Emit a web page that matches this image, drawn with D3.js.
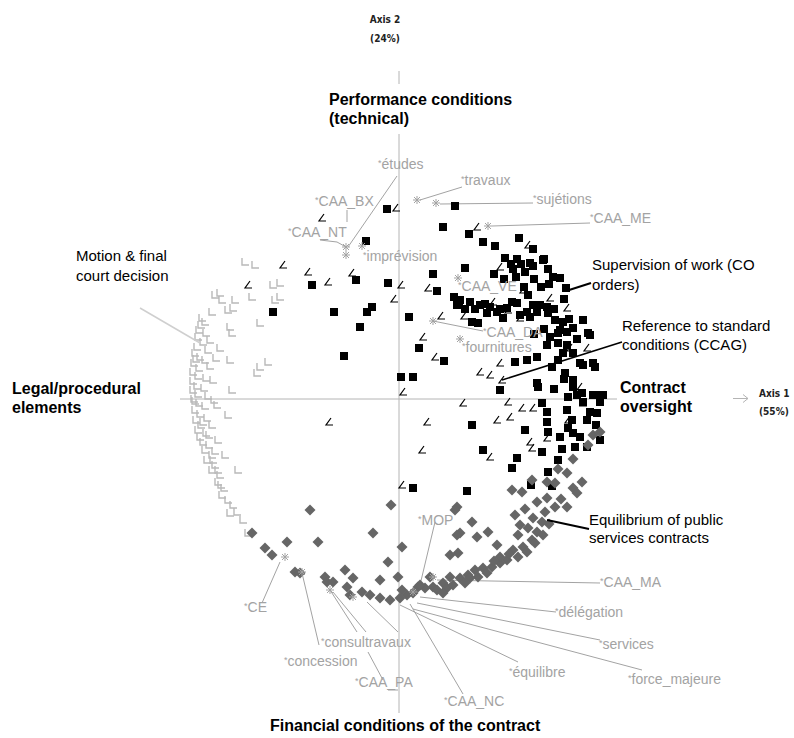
<!DOCTYPE html>
<html>
<head>
<meta charset="utf-8">
<script src="https://cdn.jsdelivr.net/npm/d3@7"></script>
<style>
  body { margin: 0; background: #fff; }
  svg { display: block; }
</style>
</head>
<body>
<div id="chart"></div>
<script>
// factor scores (axis 1, axis 2)

// legal / procedural documents (light gray)
var legalPoints = [
  [-1.54,1.37],[-1.44,1.34],[-1.26,1.14],[-1.79,1.06],[-1.66,0.91],[-1.39,0.76],[-1.69,0.72],
  [-1.39,0.32],[-1.31,0.37],[-1.67,0.09],[-1.71,-0.16],[-1.64,0.99],[-1.47,1.02],[-1.24,0.99],
  [-1.67,0.66],[-1.79,0.51],[-1.69,0.39],[-1.42,0.26],[-1.82,-0.06],[-1.74,-0.56],[-1.61,-0.71],
  [-1.81,-0.71],[-1.86,-0.61],[-1.69,-1.14],[-1.51,-1.34],[-1.19,1.16],[-1.19,1.02],
  [-1.97,0.81],[-1.94,0.77],[-2.00,0.69],[-1.93,0.66],[-2.01,0.62],[-1.96,0.57],[-2.02,0.52],
  [-1.91,0.49],[-2.04,0.46],[-1.99,0.42],[-1.94,0.39],[-2.05,0.36],[-2.00,0.31],[-1.89,0.33],
  [-2.06,0.27],[-2.01,0.23],[-1.93,0.21],[-2.06,0.18],[-2.02,0.13],[-1.95,0.11],[-2.06,0.09],
  [-2.01,0.05],[-1.91,0.03],[-2.05,0.00],[-2.00,-0.04],[-1.94,-0.07],[-2.04,-0.11],[-1.99,-0.15],
  [-1.92,-0.19],[-2.03,-0.21],[-1.98,-0.26],[-2.01,-0.31],[-1.93,-0.34],[-1.99,-0.38],[-1.96,-0.43],
  [-1.90,-0.46],[-1.94,-0.51],[-1.87,-0.56],[-1.92,-0.61],[-1.84,-0.66],[-1.87,-0.71],[-1.79,-0.76],
  [-1.81,-0.83],[-1.75,-0.89],[-1.77,-0.96],[-1.71,-1.01],[-1.66,-1.06],[-1.62,-1.13],[-1.56,-1.21],
  [-1.71,0.89],[-1.77,0.99],[-1.87,0.87],[-1.84,1.04],[-1.89,0.59],[-1.86,0.19],[-1.87,-0.26],
  [-1.85,-0.01],[-1.83,0.41],[-1.81,-0.41],[-1.98,0.74],[-2.03,0.40],[-2.04,-0.02],[-1.96,-0.23],
  [-1.90,-0.36],[-1.84,-0.52],[-1.78,-0.86]
];

// contract oversight, angle marks (black)
var oversightAngles = [
  [-0.03,1.91],[-0.77,1.81],[0.78,1.72],[-1.16,1.34],[-0.91,1.27],[-0.71,1.17],[-0.47,1.26],
  [0.02,1.14],[-0.05,1.00],[0.29,1.11],[0.24,0.62],[0.36,0.42],[0.04,0.07],[-0.70,-0.23],
  [0.28,-0.23],[0.23,-0.51],[1.01,1.32],[1.29,1.54],[1.24,1.09],[1.51,1.01],[1.68,0.91],
  [0.94,0.97],[1.21,0.81],[1.09,0.89],[1.01,0.36],[0.81,0.27],[0.91,0.24],[1.03,0.19],
  [0.64,-0.04],[1.09,-0.03],[1.23,-0.09],[1.11,-0.18],[0.98,-0.21],[1.34,-0.09],[1.31,-0.43],
  [1.33,-0.49],[0.91,-0.58],[1.69,-0.21],[1.81,0.12],[1.84,-0.04],[1.71,0.51],[1.88,0.51],
  [0.03,-0.86],[1.48,-0.39],[-1.51,1.14],[0.65,0.83],[0.42,0.83]
];

// contract oversight, squares (black)
var oversightSquares = [
  [0.44,1.72],[-0.33,1.58],[-0.87,1.14],[-0.43,1.19],[-0.11,1.16],[0.34,1.25],[0.38,1.08],
  [0.55,1.02],[0.58,0.94],[-0.65,0.87],[-0.27,0.92],[-0.32,0.87],[-0.39,0.72],[0.10,0.82],
  [0.20,0.51],[0.45,0.38],[-0.55,0.43],[0.02,0.22],[0.14,0.22],[0.56,1.93],[-0.12,1.90],
  [0.70,1.65],[0.84,1.57],[0.96,1.53],[1.20,1.61],[1.06,1.41],[1.18,1.40],[0.66,1.31],
  [-1.26,0.87],[1.34,1.50],[1.45,1.40],[1.14,1.30],[1.26,1.27],[1.34,1.33],[1.49,1.30],
  [1.54,1.22],[1.61,1.21],[1.67,1.11],[1.65,1.00],[0.61,0.99],[0.71,0.97],[0.81,0.94],
  [0.91,0.92],[1.01,0.90],[1.08,0.91],[1.18,0.96],[1.29,1.04],[1.34,0.94],[1.41,0.94],
  [1.48,0.92],[0.88,0.86],[0.98,0.87],[0.73,0.77],[0.79,0.76],[1.28,0.87],[1.38,0.87],
  [1.49,0.86],[1.56,0.79],[1.64,0.77],[1.61,0.69],[1.68,0.67],[1.74,0.71],[1.84,0.79],
  [1.89,0.66],[1.16,0.37],[1.28,0.39],[1.38,0.42],[1.48,0.54],[1.59,0.56],[1.64,0.46],
  [1.74,0.46],[1.81,0.36],[1.94,0.36],[1.53,0.32],[1.38,0.16],[1.01,0.09],[1.74,0.19],
  [1.66,0.26],[1.83,0.06],[1.94,0.04],[1.31,1.36],[1.44,1.39],[1.21,0.84],[1.31,0.82],
  [1.04,0.81],[1.51,0.62],[1.59,0.66],[1.91,0.64],[1.68,0.54],[1.84,0.34],[1.96,0.32],
  [1.59,0.39],[1.39,0.12],[1.74,0.12],[1.69,0.02],[1.78,0.04],[1.98,0.04],[2.04,0.04],
  [1.84,-0.03],[2.01,-0.03],[1.91,-0.13],[1.98,-0.14],[1.88,-0.21],[1.68,-0.11],[1.73,-0.21],
  [1.69,-0.29],[1.74,-0.34],[1.81,-0.38],[1.61,-0.38],[1.43,-0.04],[1.48,-0.13],[1.48,-0.23],
  [1.49,-0.33],[1.26,-0.31],[0.73,-0.26],[1.76,-0.48],[1.63,-0.50],[1.88,-0.48],[1.43,-0.53],
  [0.84,-0.51],[1.18,-0.59],[1.59,-0.61],[1.13,-0.69],[1.49,-0.73],[1.53,-0.87],[1.32,-0.86],
  [0.14,-0.89],[0.68,-0.92],[1.97,-0.26],[2.01,-0.41],
  [0.60,0.95],[0.66,0.90],[0.76,0.90],[0.86,0.95],[1.13,0.97],[1.25,1.12],[1.35,1.20],
  [1.42,1.12],[1.50,1.15],[1.12,1.35],[1.22,1.35],[1.05,1.20],[1.17,1.22],[0.95,1.25],
  [1.45,0.70],[1.35,0.65],[1.55,0.90],[1.70,0.80],[1.78,0.60],[1.65,0.20],[1.55,0.10]
];

// financial conditions (dark gray diamonds)
var financialPoints = [
  [1.94,-0.36],[2.01,-0.33],[1.89,-0.46],[1.74,-0.60],[1.59,-0.70],[1.68,-0.74],[1.33,-0.81],
  [1.83,-0.83],[1.13,-0.91],[1.23,-0.93],[1.48,-0.83],[1.56,-0.84],[1.74,-0.89],[1.78,-0.94],
  [1.48,-0.99],[1.38,-1.03],[1.56,-1.08],[1.68,-1.08],[1.26,-1.10],[1.46,-1.13],[1.16,-1.16],
  [1.34,-1.19],[1.43,-1.23],[1.21,-1.26],[1.29,-1.29],[1.38,-1.33],[1.44,-1.36],[1.19,-1.36],
  [1.33,-1.41],[1.24,-1.48],[1.14,-1.51],[1.28,-1.53],[1.19,-1.58],[1.08,-1.61],[1.01,-1.64],
  [0.93,-1.68],[0.84,-1.69],[0.76,-1.71],[1.01,-1.58],[0.88,-1.74],[0.79,-1.78],[0.69,-1.76],
  [0.61,-1.79],[0.51,-1.78],[0.44,-1.84],[0.34,-1.88],[0.26,-1.89],[0.19,-1.88],[0.14,-1.94],
  [0.08,-1.96],[0.03,-1.91],[0.31,-1.78],[0.58,-1.08],[0.73,-1.23],[0.61,-1.34],[0.89,-1.33],
  [0.78,-1.38],[0.98,-1.46],[0.59,-1.54],[0.03,-1.48],[-0.89,-1.11],[-0.08,-1.06],[-0.26,-1.34],
  [-1.47,-1.34],[-1.34,-1.49],[-1.27,-1.56],[-1.12,-1.43],[-0.81,-1.43],[-1.04,-1.73],[-0.99,-1.74],
  [-0.74,-1.78],[-0.72,-1.83],[-0.66,-1.83],[-0.54,-1.71],[-0.46,-1.79],[-0.19,-1.81],[-0.11,-1.63],
  [-0.01,-1.78],[-0.52,-1.88],[-0.49,-1.96],[-0.37,-1.93],[-0.29,-1.96],[-0.19,-1.99],[-0.09,-2.01],
  [0.01,-1.99],[0.21,-1.86],[0.38,-1.91],[0.48,-1.89],[0.54,-1.86],[0.51,-1.56],[0.58,-1.36],
  [0.56,-1.11],[0.44,-1.94],[0.71,-1.79],[1.10,-1.55],[0.95,-1.62],[0.66,-1.84],[1.36,-1.44],
  [1.50,-1.25],[1.62,-1.00]
];

// supplementary variables (asterisks)
var variablePoints = [
  [-0.53,1.52],[-0.53,1.44],[-0.37,1.53],[0.18,1.99],[0.37,1.96],[0.89,1.73],[0.59,1.21],
  [0.34,0.78],[0.61,0.60],[0.34,-1.78],[-1.14,-1.58],[-0.97,-1.73],[-0.69,-1.91],[-0.46,-1.98],
  [0.14,-1.93]
];

var variableNames = ['études','travaux','sujétions','CAA_ME','CAA_BX','CAA_NT','imprévision',
  'CAA_VE','CAA_DA','fournitures','MOP','CAA_MA','délégation','services','équilibre',
  'force_majeure','CAA_NC','consultravaux','concession','CAA_PA','CE'];
var variableLabelAt = [
  [-0.21,2.30],[0.62,2.14],[1.34,1.95],[1.91,1.76],[-0.84,1.93],[-1.11,1.62],[-0.36,1.38],
  [0.59,1.08],[0.84,0.62],[0.63,0.47],[0.19,-1.26],[2.01,-1.88],[1.56,-2.18],[2.00,-2.50],
  [1.10,-2.78],[2.29,-2.85],[0.45,-3.07],[-0.78,-2.48],[-1.15,-2.67],[-0.44,-2.88],[-1.55,-2.13]
];
var leaderLines = [
  [[-0.02,2.23],[-0.51,1.52]],
  [[0.63,2.12],[0.21,1.99]],
  [[1.34,1.96],[0.41,1.95]],
  [[1.91,1.76],[0.93,1.73]],
  [[-0.52,1.89],[-0.52,1.77]],
  [[-0.79,1.59],[-0.62,1.57],[-0.53,1.52]],
  [[0.34,0.78],[0.84,0.68]],
  [[0.36,-1.23],[0.21,-1.86]],
  [[0.38,-1.81],[2.01,-1.84]],
  [[0.21,-1.98],[1.57,-2.13]],
  [[0.18,-2.04],[2.01,-2.41]],
  [[0.14,-2.10],[2.43,-2.71]],
  [[0.01,-2.06],[1.19,-2.63]],
  [[0.11,-2.05],[0.64,-2.95]],
  [[-0.97,-1.74],[-0.80,-2.46]],
  [[-0.69,-1.91],[-0.42,-2.33]],
  [[-0.66,-1.93],[-0.33,-2.33]],
  [[-0.31,-2.53],[-0.16,-2.81]],
  [[-0.11,-2.91],[-0.01,-2.91]],
  [[-0.32,-2.03],[-0.01,-2.33]],
  [[-1.19,-1.63],[-1.37,-2.04]]
];

var W = 794, H = 738;
var font = '"Liberation Sans", Arial, sans-serif';
var svg = d3.select('#chart').append('svg')
    .attr('width', W)
    .attr('height', H);

var x = d3.scaleLinear().domain([-4, 4]).range([-1, 799]);
var y = d3.scaleLinear().domain([-4, 4]).range([799, -1]);

var axisColor = '#b4b4b4';
var varColor = '#a3a3a3';

// axes
svg.append('line')
    .attr('x1', 180).attr('x2', 617)
    .attr('y1', y(0)).attr('y2', y(0))
    .attr('stroke', axisColor);
svg.append('line')
    .attr('x1', x(0)).attr('x2', x(0))
    .attr('y1', 71).attr('y2', 84)
    .attr('stroke', axisColor);
svg.append('line')
    .attr('x1', x(0)).attr('x2', x(0))
    .attr('y1', 134).attr('y2', 713)
    .attr('stroke', axisColor);
// axis 1 arrow
svg.append('path')
    .attr('d', 'M733,398.5H748M743,394.5L748,398.5L743,402.5')
    .attr('fill', 'none')
    .attr('stroke', axisColor);

// leader lines of the variables
var line = d3.line().x(d => x(d[0])).y(d => y(d[1]));
svg.selectAll('path.leader')
    .data(leaderLines)
    .enter().append('path')
    .attr('class', 'leader')
    .attr('d', line)
    .attr('fill', 'none')
    .attr('stroke', varColor)
    .attr('stroke-width', 1);

// legal points: L marks
svg.selectAll('path.legal')
    .data(legalPoints)
    .enter().append('path')
    .attr('class', 'legal')
    .attr('transform', d => 'translate(' + x(d[0]) + ',' + y(d[1]) + ')')
    .attr('d', 'M-3,-4L-3,3L4,3')
    .attr('fill', 'none')
    .attr('stroke', '#b9b9b9')
    .attr('stroke-width', 1.4);

// oversight angle marks
svg.selectAll('path.angle')
    .data(oversightAngles)
    .enter().append('path')
    .attr('class', 'angle')
    .attr('transform', d => 'translate(' + x(d[0]) + ',' + y(d[1]) + ')')
    .attr('d', 'M2,-4L-3,3L4,3')
    .attr('fill', 'none')
    .attr('stroke', '#000')
    .attr('stroke-width', 1.2);

// oversight squares
svg.selectAll('rect.sq')
    .data(oversightSquares)
    .enter().append('rect')
    .attr('class', 'sq')
    .attr('x', d => x(d[0]) - 4)
    .attr('y', d => y(d[1]) - 4)
    .attr('width', 8)
    .attr('height', 8)
    .attr('fill', '#000');

// financial diamonds
svg.selectAll('path.dia')
    .data(financialPoints)
    .enter().append('path')
    .attr('class', 'dia')
    .attr('transform', d => 'translate(' + x(d[0]) + ',' + y(d[1]) + ')')
    .attr('d', 'M0,-5.5L5.5,0L0,5.5L-5.5,0Z')
    .attr('fill', '#666');

// variables: asterisks
svg.selectAll('path.star')
    .data(variablePoints)
    .enter().append('path')
    .attr('class', 'star')
    .attr('transform', d => 'translate(' + x(d[0]) + ',' + y(d[1]) + ')')
    .attr('d', 'M-4,0H4M0,-4V4M-3,-3L3,3M-3,3L3,-3')
    .attr('stroke', varColor)
    .attr('stroke-width', 1);

// variable labels
var vl = svg.selectAll('text.var')
    .data(variableNames)
    .enter().append('text')
    .attr('class', 'var')
    .attr('x', (d, i) => x(variableLabelAt[i][0]))
    .attr('y', (d, i) => y(variableLabelAt[i][1]))
    .style('font-family', font)
    .style('font-size', '14px')
    .attr('fill', varColor);
vl.append('tspan').text('*').style('font-size', '9px').attr('dy', -3);
vl.append('tspan').text(d => d).attr('dy', 3);

// bold dimension titles
var titles = [
  { t: 'Performance conditions', x: 329, y: 105 },
  { t: '(technical)', x: 329, y: 124 },
  { t: 'Legal/procedural', x: 12, y: 394 },
  { t: 'elements', x: 12, y: 413 },
  { t: 'Contract', x: 620, y: 393 },
  { t: 'oversight', x: 620, y: 412 },
  { t: 'Financial conditions of the contract', x: 270, y: 731 }
];
svg.selectAll('text.title')
    .data(titles)
    .enter().append('text')
    .attr('class', 'title')
    .attr('x', d => d.x)
    .attr('y', d => d.y)
    .text(d => d.t)
    .style('font-family', font)
    .style('font-size', '16px')
    .style('font-weight', 'bold')
    .attr('fill', '#000');

// annotations
var notes = [
  { t: 'Motion & final', x: 76, y: 261 },
  { t: 'court decision', x: 76, y: 281 },
  { t: 'Supervision of work (CO', x: 592, y: 270 },
  { t: 'orders)', x: 592, y: 290 },
  { t: 'Reference to standard', x: 622, y: 331 },
  { t: 'conditions (CCAG)', x: 622, y: 350 },
  { t: 'Equilibrium of public', x: 589, y: 525 },
  { t: 'services contracts', x: 589, y: 543 }
];
svg.selectAll('text.note')
    .data(notes)
    .enter().append('text')
    .attr('class', 'note')
    .attr('x', d => d.x)
    .attr('y', d => d.y)
    .text(d => d.t)
    .style('font-family', font)
    .style('font-size', '15px')
    .attr('fill', '#000');

var noteLines = [
  { p: [[140, 308], [200, 343]], c: '#cfcfcf', w: 1.5 },
  { p: [[591, 283], [566, 291]], c: '#000', w: 2 },
  { p: [[622, 342], [502, 380]], c: '#000', w: 1.5 },
  { p: [[589, 529], [547, 520]], c: '#000', w: 2 }
];
svg.selectAll('path.noteline')
    .data(noteLines)
    .enter().append('path')
    .attr('class', 'noteline')
    .attr('d', d => d3.line()(d.p))
    .attr('stroke', d => d.c)
    .attr('stroke-width', d => d.w)
    .attr('fill', 'none');

// axis captions
var caps = [
  { t: 'Axis 2', x: 385, y: 23 },
  { t: '(24%)', x: 385, y: 42 },
  { t: 'Axis 1', x: 759, y: 397 },
  { t: '(55%)', x: 759, y: 415 }
];
svg.selectAll('text.cap')
    .data(caps)
    .enter().append('text')
    .attr('class', 'cap')
    .attr('x', d => d.x)
    .attr('y', d => d.y)
    .attr('text-anchor', d => d.x < 700 ? 'middle' : 'start')
    .text(d => d.t)
    .style('font-family', '"DejaVu Sans Condensed", sans-serif')
    .style('font-size', '10px')
    .style('font-weight', 'bold')
    .attr('fill', '#222');
</script>
</body>
</html>
